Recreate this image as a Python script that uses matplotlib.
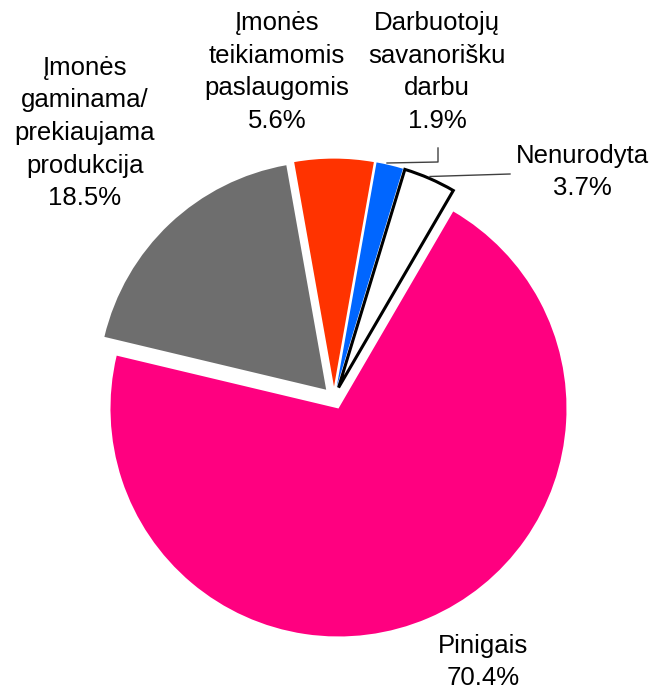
import matplotlib.pyplot as plt

plt.rcParams['font.family'] = ['Liberation Sans', 'DejaVu Sans']

labels = ['Pinigais', 'Nenurodyta', 'Darbuotojų\nsavanorišku\ndarbu',
          'Įmonės\nteikiamomis\npaslaugomis',
          'Įmonės\ngaminama/\nprekiaujama\nprodukcija']
shares = [70.4, 3.7, 1.9, 5.6, 18.5]
colors = ['#FF0080', '#FFFFFF', '#0066FF', '#FF3300', '#6E6E6E']

# pie geometry in pixels (figure is 654x691 at 100 dpi)
cx, cy, rad = 334, 398, 228

def px(x, y):
	return (x - cx) / rad, (cy - y) / rad

fig = plt.figure(figsize=(6.54, 6.91), dpi=100)
ax = fig.add_axes([0, 0, 1, 1])

wedges, _ = ax.pie(shares, colors=colors, startangle=166.6, counterclock=True,
                   explode=[0.05] * len(shares), radius=1.0,
                   wedgeprops=dict(linewidth=0))
wedges[1].set_edgecolor('black')
wedges[1].set_linewidth(2.2)

# label centres, in pixels
label_pos = [(483, 662), (582, 172), (437, 72), (277, 72), (85, 133)]
for lab, v, (x, y) in zip(labels, shares, label_pos):
	tx, ty = px(x, y)
	ax.text(tx, ty, lab + '\n' + f'{v:.1f}%', ha='center', va='center',
	        fontsize=18.5, linespacing=1.45, color='black')

# leader lines
lx, ly = zip(*[px(438, 148), px(438, 162), px(387, 163)])
ax.plot(lx, ly, color='#404040', lw=1)
lx, ly = zip(*[px(510, 174), px(430, 176.5)])
ax.plot(lx, ly, color='#404040', lw=1)

ax.set_xlim(-cx / rad, (654 - cx) / rad)
ax.set_ylim(-(691 - cy) / rad, cy / rad)
ax.set_aspect('equal')
ax.axis('off')

fig.savefig('out.png', dpi=100)
